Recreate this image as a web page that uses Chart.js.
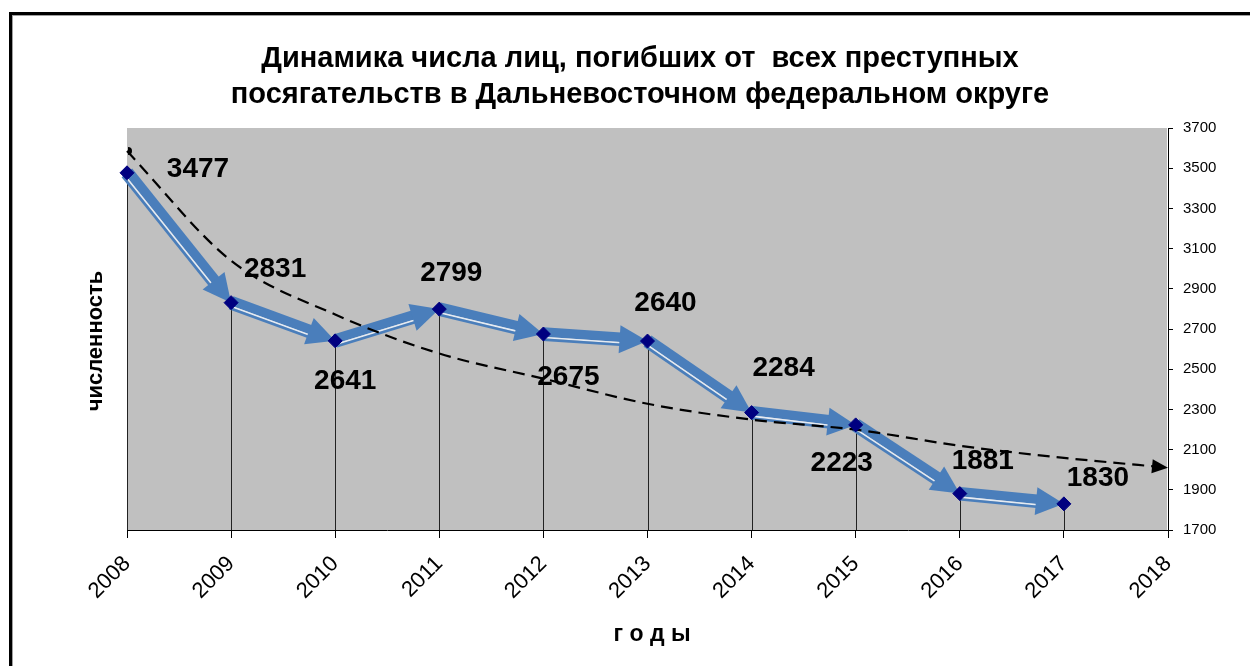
<!DOCTYPE html>
<html>
<head>
<meta charset="utf-8">
<script src="https://cdn.jsdelivr.net/npm/chart.js@4.4.1/dist/chart.umd.min.js"></script>
<style>
  html, body { margin: 0; padding: 0; background: #fff; }
</style>
</head>
<body>
<canvas id="chart" width="1250" height="666"></canvas>
<script>
// data
var years = ['2008', '2009', '2010', '2011', '2012', '2013', '2014', '2015', '2016', '2017', '2018'];
var deaths = [3477, 2831, 2641, 2799, 2675, 2640, 2284, 2223, 1881, 1830];
var trend = [3585, 3040, 2772, 2578, 2453, 2328, 2249, 2199, 2119, 2059, 2010];
var titleLines = ['Динамика числа лиц, погибших от  всех преступных',
                  'посягательств в Дальневосточном федеральном округе'];
var yTitle = 'численность';
var xTitle = 'г о д ы';

var fontFamily = "Arial, 'Liberation Sans', sans-serif";
var blue = '#4a7ebb';

// where each value label sits, relative to its point (px)
var labelOffsets = [[71, -4], [44, -33], [10, 40], [12, -36], [25, 43],
                    [18, -38], [32, -44], [-14, 38], [23, -32], [34, -26]];

function drawArrow(ctx, p0, p1) {
  var dx = p1.x - p0.x, dy = p1.y - p0.y;
  var len = Math.sqrt(dx * dx + dy * dy);
  var ux = dx / len, uy = dy / len, nx = -uy, ny = ux;
  var head = 28, half = 14;
  var bx = p1.x - ux * head, by = p1.y - uy * head;

  function band(off, w, color) {
    ctx.beginPath();
    ctx.moveTo(p0.x + nx * off, p0.y + ny * off);
    ctx.lineTo(bx + nx * off + ux, by + ny * off + uy);
    ctx.lineWidth = w;
    ctx.strokeStyle = color;
    ctx.lineCap = 'butt';
    ctx.stroke();
  }
  band(-2, 9.5, blue);
  band(3.5, 1.6, '#e4ebf4');
  band(5.6, 2.6, blue);

  ctx.beginPath();
  ctx.moveTo(p1.x, p1.y);
  ctx.lineTo(bx + nx * half, by + ny * half);
  ctx.lineTo(bx - nx * half, by - ny * half);
  ctx.closePath();
  ctx.fillStyle = blue;
  ctx.fill();
}

var decor = {
  id: 'decor',
  beforeDraw: function (chart) {
    var ctx = chart.ctx, a = chart.chartArea;
    ctx.save();
    ctx.fillStyle = '#fff';
    ctx.fillRect(0, 0, chart.width, chart.height);
    // frame
    ctx.fillStyle = '#000';
    ctx.fillRect(9, 12, 3, chart.height - 12);
    ctx.fillRect(9, 12, chart.width - 9, 3);
    ctx.fillStyle = '#a0a0a0';
    ctx.fillRect(12, 15, 1, chart.height - 15);
    ctx.fillRect(12, 15, chart.width - 12, 1);
    // plot area
    ctx.fillStyle = '#c0c0c0';
    ctx.fillRect(a.left, a.top, a.right - a.left - 1, a.bottom - a.top);
    ctx.restore();
  },
  beforeDatasetsDraw: function (chart) {
    var ctx = chart.ctx, a = chart.chartArea;
    var pts = chart.getDatasetMeta(0).data;
    ctx.save();
    // drop lines
    ctx.strokeStyle = '#222';
    ctx.lineWidth = 1;
    pts.forEach(function (p) {
      var x = Math.round(p.x) + 0.5;
      ctx.beginPath();
      ctx.moveTo(x, p.y);
      ctx.lineTo(x, a.bottom);
      ctx.stroke();
    });
    for (var i = 0; i < pts.length - 1; i++) {
      drawArrow(ctx, pts[i], pts[i + 1]);
    }
    ctx.restore();
  },
  afterDatasetsDraw: function (chart) {
    var ctx = chart.ctx;
    ctx.save();
    // trend arrowhead and start knob
    var tp = chart.getDatasetMeta(1).data;
    var e = tp[tp.length - 1], f = tp[tp.length - 2];
    var dx = e.x - f.x, dy = e.y - f.y, l = Math.sqrt(dx * dx + dy * dy);
    var ux = dx / l, uy = dy / l;
    ctx.fillStyle = '#000';
    ctx.beginPath();
    ctx.moveTo(e.x, e.y);
    ctx.lineTo(e.x - ux * 16 - uy * 7, e.y - uy * 16 + ux * 7);
    ctx.lineTo(e.x - ux * 16 + uy * 7, e.y - uy * 16 - ux * 7);
    ctx.closePath();
    ctx.fill();
    ctx.beginPath();
    ctx.arc(tp[0].x + 1, tp[0].y, 4, -Math.PI / 2, Math.PI / 2);
    ctx.fill();

    // value labels
    var pts = chart.getDatasetMeta(0).data;
    ctx.font = 'bold 28px ' + fontFamily;
    ctx.fillStyle = '#000';
    ctx.textAlign = 'center';
    ctx.textBaseline = 'middle';
    pts.forEach(function (p, i) {
      ctx.fillText(String(deaths[i]), p.x + labelOffsets[i][0], p.y + labelOffsets[i][1]);
    });

    // titles
    ctx.font = 'bold 29px ' + fontFamily;
    ctx.fillText(titleLines[0], 640, 59);
    ctx.fillText(titleLines[1], 640, 95);

    ctx.font = 'bold 23px ' + fontFamily;
    ctx.fillText(xTitle, 652, 635);

    ctx.translate(96, 341);
    ctx.rotate(-Math.PI / 2);
    ctx.font = 'bold 22px ' + fontFamily;
    ctx.fillText(yTitle, 0, 0);
    ctx.restore();
  }
};

new Chart(document.getElementById('chart'), {
  type: 'line',
  data: {
    labels: years,
    datasets: [{
      label: 'погибшие',
      data: deaths,
      showLine: false,
      pointStyle: 'rectRot',
      pointRadius: 7,
      pointBackgroundColor: '#000080',
      pointBorderColor: '#000080',
      pointBorderWidth: 1,
      clip: false,
      order: 0
    }, {
      label: 'тренд',
      data: trend,
      borderColor: '#000',
      borderWidth: 2.2,
      borderDash: [12, 7],
      pointRadius: 0,
      cubicInterpolationMode: 'monotone',
      fill: false,
      clip: false,
      order: 1
    }]
  },
  options: {
    responsive: false,
    animation: false,
    layout: { padding: { left: 127, top: 128, right: 0, bottom: 0 } },
    plugins: {
      legend: { display: false },
      tooltip: { enabled: false },
      title: { display: false }
    },
    scales: {
      x: {
        type: 'category',
        offset: false,
        grid: { drawOnChartArea: false, tickLength: 8, color: '#000' },
        border: { color: '#000', width: 1 },
        ticks: {
          color: '#000',
          font: { family: fontFamily, size: 22 },
          minRotation: 45,
          maxRotation: 45,
          autoSkip: false,
          padding: 13
        },
        afterFit: function (s) { s.height = 136; }
      },
      y: {
        position: 'right',
        min: 1700,
        max: 3700,
        grid: { drawOnChartArea: false, tickLength: 5, color: '#000' },
        border: { color: '#000', width: 1 },
        ticks: {
          stepSize: 200,
          color: '#000',
          font: { family: fontFamily, size: 15 },
          padding: 10,
          callback: function (v) { return String(v); }
        },
        afterFit: function (s) { s.width = 82; }
      }
    }
  },
  plugins: [decor]
});
</script>
</body>
</html>
